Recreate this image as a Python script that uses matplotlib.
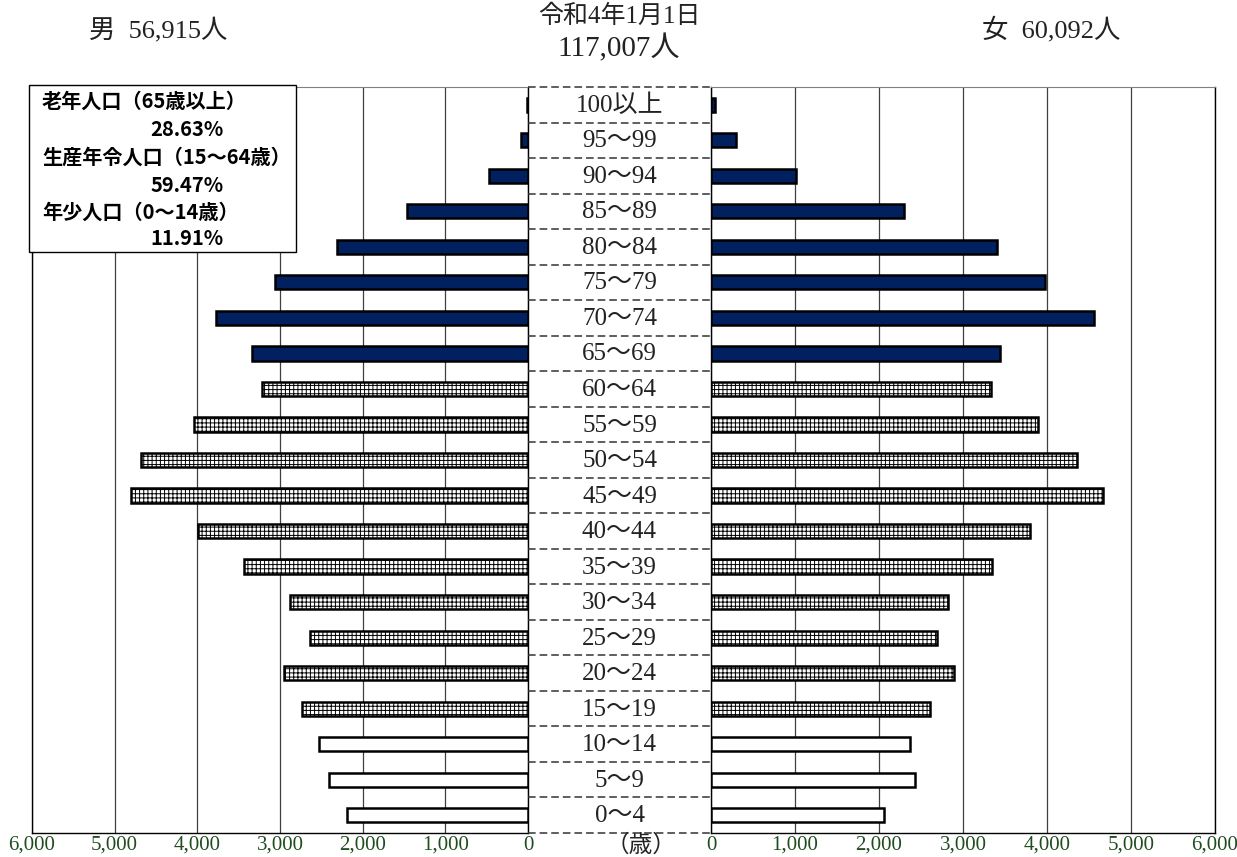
import matplotlib.pyplot as plt
from matplotlib.patches import Rectangle
from matplotlib.ticker import FuncFormatter

plt.rcParams['font.family'] = ['Liberation Serif', 'Noto Sans CJK JP']
plt.rcParams['hatch.linewidth'] = 0.7
plt.rcParams['hatch.color'] = '#222222'

# youngest first
age_groups = ['0〜4', '5〜9', '10〜14', '15〜19', '20〜24', '25〜29', '30〜34',
              '35〜39', '40〜44', '45〜49', '50〜54', '55〜59', '60〜64', '65〜69',
              '70〜74', '75〜79', '80〜84', '85〜89', '90〜94', '95〜99', '100以上']
male = [2191, 2406, 2530, 2736, 2947, 2636, 2878, 3435, 3995, 4802, 4681,
        4037, 3220, 3341, 3777, 3059, 2305, 1465, 477, 85, 15]
female = [2065, 2428, 2372, 2603, 2890, 2691, 2818, 3345, 3795, 4672, 4358,
          3888, 3337, 3445, 4560, 3978, 3400, 2300, 1016, 294, 51]
groups = ['young'] * 3 + ['work'] * 10 + ['old'] * 8

legend_labels = ['老年人口（65歳以上）', '生産年令人口（15〜64歳）', '年少人口（0〜14歳）']
legend_shares = ['28.63%', '59.47%', '11.91%']

ticks = [0, 1000, 2000, 3000, 4000, 5000, 6000]

style = {
    'young': dict(facecolor='white', hatch=None),
    'work': dict(facecolor='white', hatch='++++'),
    'old': dict(facecolor='#002060', hatch=None),
}

W, H = 1237, 857
fig = plt.figure(figsize=(W / 100, H / 100), dpi=100)


def fx(px):
    return px / W


def fy(py):
    return 1 - py / H


ax_top, ax_bot = 87, 833
ax_l = fig.add_axes([fx(32), fy(ax_bot), fx(528 - 32), (ax_bot - ax_top) / H])
ax_m = fig.add_axes([fx(528), fy(ax_bot), fx(711 - 528), (ax_bot - ax_top) / H])
ax_r = fig.add_axes([fx(711), fy(ax_bot), fx(1215 - 711), (ax_bot - ax_top) / H])

ypos = list(range(len(age_groups)))
green = '#1f4d1f'
fmt = FuncFormatter(lambda v, p: f'{int(v):,}')

for ax, vals in [(ax_l, male), (ax_r, female)]:
    for y, v, g in zip(ypos, vals, groups):
        ax.barh(y, v, height=0.4, edgecolor='black', linewidth=1.8,
                zorder=3, **style[g])
    ax.set_ylim(-0.5, len(age_groups) - 0.5)
    ax.set_yticks([])
    ax.set_xticks(ticks)
    ax.xaxis.set_major_formatter(fmt)
    ax.tick_params(axis='x', length=0, pad=2, labelsize=15, labelcolor=green)
    ax.grid(axis='x', color='#404040', linewidth=0.9, zorder=0)
    ax.spines['top'].set_color('#808080')
    for s in ['left', 'right', 'bottom']:
        ax.spines[s].set_color('black')
        ax.spines[s].set_linewidth(1.0)

ax_l.set_xlim(6000, 0)
ax_r.set_xlim(0, 6000)

# middle column with age labels
ax_m.set_xlim(0, 1)
ax_m.set_ylim(-0.5, len(age_groups) - 0.5)
ax_m.axis('off')
for y, lab in zip(ypos, age_groups):
    ax_m.text(0.5, y - 0.03, lab, ha='center', va='center', fontsize=18,
              color='#222222')
for k in range(len(age_groups) + 1):
    ax_m.plot([0, 1], [k - 0.5, k - 0.5], color='#333333', linewidth=1.1,
              linestyle=(0, (5, 2.6)), clip_on=False)
fig.text(fx(641), fy(845), '（歳）', ha='center', va='center', fontsize=17,
         color='#222222')

# header texts
fig.text(fx(619), fy(16), '令和4年1月1日', ha='center', va='center', fontsize=18,
         color='#222222')
fig.text(fx(619), fy(48), '117,007人', ha='center', va='center', fontsize=21,
         color='#222222')
fig.text(fx(158), fy(30), '男  56,915人', ha='center', va='center', fontsize=19,
         color='#222222')
fig.text(fx(1051), fy(30), '女  60,092人', ha='center', va='center', fontsize=19,
         color='#222222')

# legend box
fig.add_artist(Rectangle((fx(29), fy(252)), fx(296 - 29), (252 - 85) / H,
                         transform=fig.transFigure, facecolor='white',
                         edgecolor='black', linewidth=1.0, zorder=5))
line_y = [101, 130, 157, 185, 212, 238]
for i, (lab, share) in enumerate(zip(legend_labels, legend_shares)):
    fig.text(fx(42), fy(line_y[2 * i]), lab, ha='left', va='center',
             fontsize=14.5, fontweight='bold', family='Noto Sans CJK JP',
             zorder=6)
    fig.text(fx(224), fy(line_y[2 * i + 1]), share, ha='right', va='center',
             fontsize=14.5, fontweight='bold', family='Noto Sans CJK JP',
             zorder=6)

fig.savefig('out.png', dpi=100)
